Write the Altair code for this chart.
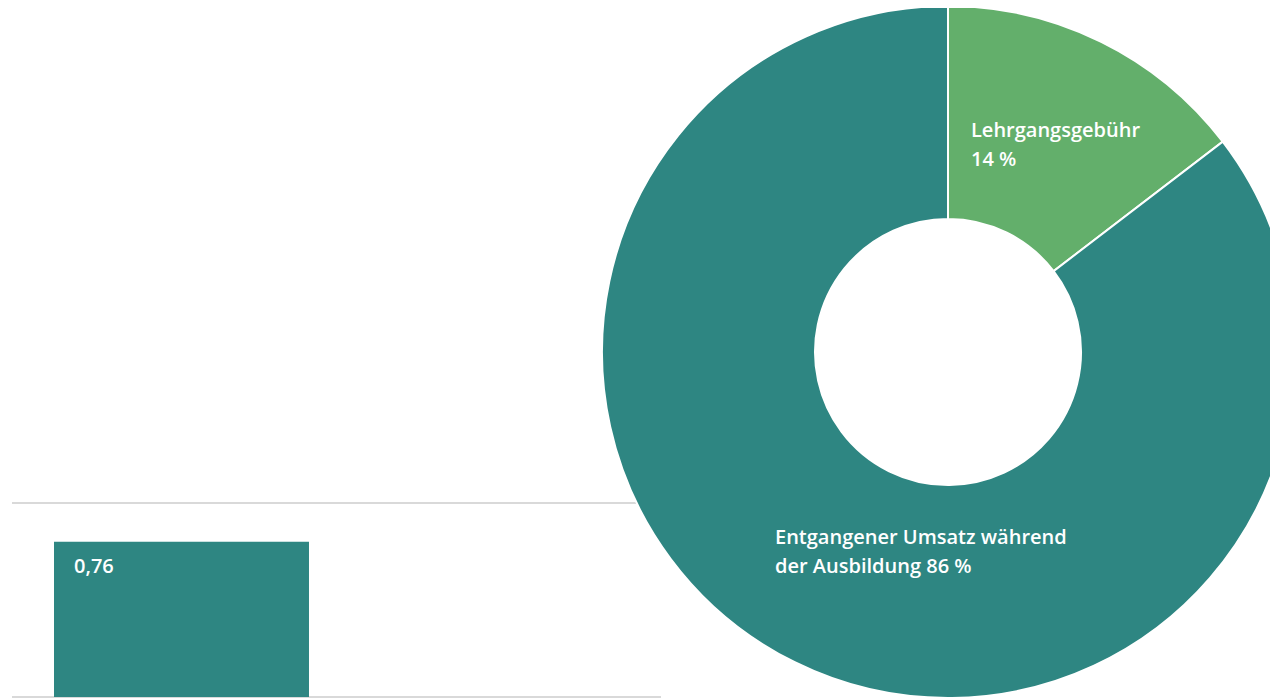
import altair as alt
import pandas as pd

# ---- bar chart values ----
bar_categories = ["Lehrgangskosten"]
bar_values = [0.76]
bar_labels = ["0,76"]
grid_values = [0, 0.95]

# ---- donut values ----
slice_names = ["Lehrgangsgebühr", "Entgangener Umsatz während der Ausbildung"]
slice_shares = [14.6, 85.4]
slice_order = [0, 1]
slice_labels = ["Lehrgangsgebühr\n14 %", "Entgangener Umsatz während\nder Ausbildung 86 %"]
slice_colors = ["#63af6b", "#2e8682"]

TEAL = "#2e8682"
FONT = "Open Sans"

bar_df = pd.DataFrame({"kategorie": bar_categories, "wert": bar_values, "label": bar_labels})
grid_df = pd.DataFrame({"wert": grid_values})
donut_df = pd.DataFrame({
    "anteil": slice_names,
    "prozent": slice_shares,
    "reihenfolge": slice_order,
    "label": slice_labels,
})

y_scale = alt.Scale(domain=[0, 0.95], range=[689, 495])
x_scale = alt.Scale(domain=bar_categories, range=[4, 653],
                    paddingInner=0, paddingOuter=0.7726, align=0.1066)

grid = alt.Chart(grid_df).mark_rule(color="#d9d9d9", strokeWidth=2).encode(
    y=alt.Y("wert:Q", scale=y_scale, axis=None),
    x=alt.value(4),
    x2=alt.value(653),
)

bars = alt.Chart(bar_df).mark_bar(color=TEAL).encode(
    x=alt.X("kategorie:N", scale=x_scale, axis=None),
    y=alt.Y("wert:Q", scale=y_scale, axis=None),
)

bar_text = alt.Chart(bar_df).mark_text(
    align="left", baseline="alphabetic", dx=20, dy=31,
    font=FONT, fontSize=20, fontWeight=600, color="white",
).encode(
    x=alt.X("kategorie:N", scale=x_scale, axis=None, bandPosition=0),
    y=alt.Y("wert:Q", scale=y_scale, axis=None),
    text="label:N",
)

donut = alt.Chart(donut_df).mark_arc(
    outerRadius=346, innerRadius=133, stroke="white", strokeWidth=2,
).encode(
    theta=alt.Theta("prozent:Q", stack=True),
    color=alt.Color("anteil:N", scale=alt.Scale(domain=slice_names, range=slice_colors), legend=None),
    order=alt.Order("reihenfolge:Q"),
    x=alt.value(940),
    y=alt.value(344),
)

label_style = dict(align="left", baseline="alphabetic", lineBreak="\n", lineHeight=29,
                   font=FONT, fontSize=20, fontWeight=600, color="white")

lab1 = alt.Chart(donut_df).transform_filter(alt.datum.reihenfolge == 0).mark_text(**label_style).encode(
    x=alt.value(963), y=alt.value(129), text="label:N")
lab2 = alt.Chart(donut_df).transform_filter(alt.datum.reihenfolge == 1).mark_text(**label_style).encode(
    x=alt.value(767), y=alt.value(535.5), text="label:N")

chart = alt.layer(grid, bars, bar_text, donut, lab1, lab2).properties(
    width=1262, height=691,
    padding=0,
    autosize=alt.AutoSizeParams(type="none"),
).configure_view(stroke=None)

chart.save("out.html", embed_options={"renderer": "svg", "actions": False})
